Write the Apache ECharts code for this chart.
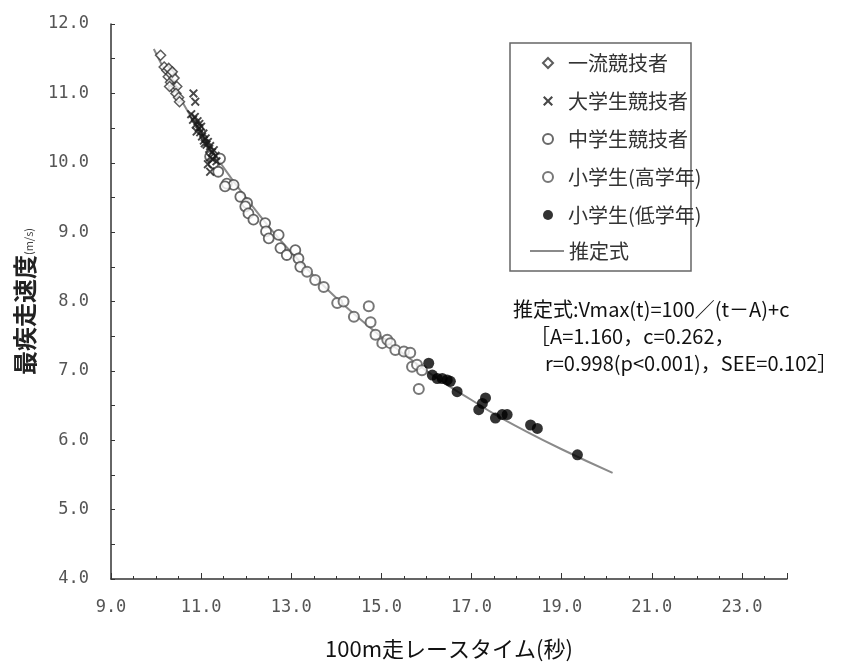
<!DOCTYPE html>
<html>
<head>
<meta charset="utf-8">
<script src="https://cdn.jsdelivr.net/npm/echarts@6/dist/echarts.min.js"></script>
<style>html,body{margin:0;padding:0;background:#fff}#chart{width:851px;height:667px}</style>
</head>
<body>
<div id="chart"></div>
<script>
// values: [100m time (s), max speed (m/s)]
const elite = [[10.10,11.55],[10.18,11.38],[10.24,11.33],[10.28,11.36],[10.27,11.24],[10.33,11.28],[10.32,11.16],[10.40,11.22],[10.38,11.08],[10.46,11.10],[10.44,11.00],[10.50,10.94],[10.36,11.31],[10.30,11.10],[10.52,10.88]]
const college = [[10.83,11.00],[10.87,10.88],[10.78,10.70],[10.82,10.62],[10.86,10.66],[10.88,10.55],[10.92,10.60],[10.95,10.50],[10.90,10.45],[10.98,10.44],[11.00,10.52],[11.02,10.38],[11.05,10.42],[11.06,10.32],[11.10,10.35],[11.12,10.26],[11.15,10.30],[11.18,10.20],[11.20,10.24],[11.24,10.15],[11.28,10.18],[11.32,10.10],[11.20,10.08],[11.15,9.98],[10.96,10.56],[11.08,10.28],[11.26,10.05],[11.34,10.02],[11.20,9.87]]
const juniorHigh = [[11.20,10.09],[11.42,10.06],[11.27,9.99],[11.38,9.87],[11.57,9.70],[11.72,9.68],[11.53,9.66],[11.87,9.51],[12.02,9.42],[11.98,9.37],[12.05,9.27],[12.16,9.18],[12.42,9.13],[12.44,9.01],[12.50,8.91],[12.72,8.96],[12.76,8.77],[12.90,8.67],[13.09,8.74],[13.16,8.62],[13.20,8.50]]
const elemUpper = [[13.35,8.43],[13.53,8.31],[13.72,8.21],[14.02,7.98],[14.16,8.00],[14.39,7.78],[14.72,7.93],[14.76,7.70],[14.87,7.52],[15.02,7.40],[15.13,7.45],[15.20,7.40],[15.31,7.30],[15.50,7.28],[15.64,7.26],[15.68,7.06],[15.79,7.09],[15.83,6.74],[15.90,7.01]]
const elemLower = [[16.05,7.11],[16.13,6.94],[16.24,6.89],[16.35,6.89],[16.46,6.87],[16.53,6.85],[16.68,6.70],[17.31,6.61],[17.24,6.53],[17.16,6.44],[17.53,6.32],[17.68,6.37],[17.79,6.37],[18.31,6.22],[18.46,6.17],[19.35,5.79]]
const fitCurve = [[9.95,11.64],[10.25,11.26],[10.5,10.97],[11,10.42],[11.5,9.93],[12,9.49],[12.5,9.08],[13,8.71],[13.5,8.37],[14,8.05],[14.5,7.76],[15,7.49],[15.5,7.24],[16,7.00],[16.5,6.78],[17,6.58],[17.5,6.38],[18,6.20],[19,5.87],[20.13,5.53]]
const seriesNames = ['一流競技者','大学生競技者','中学生競技者','小学生(高学年)','小学生(低学年)','推定式']
const formulaLines = ['推定式:Vmax(t)=100／(t－A)+c','［A=1.160，c=0.262，','r=0.998(p<0.001)，SEE=0.102］']

const crossPath = 'path://M0,1.5L1.5,0L5,3.5L8.5,0L10,1.5L6.5,5L10,8.5L8.5,10L5,6.5L1.5,10L0,8.5L3.5,5Z'
const tickFont = { fontFamily: 'DejaVu Sans Mono', fontSize: 17, color: '#555' }
const axisLine = { lineStyle: { color: '#333', width: 1.5 } }
const legendText = { fontFamily: 'Noto Sans CJK JP', fontSize: 20, color: '#333' }

const chart = echarts.init(document.getElementById('chart'))
chart.setOption({
  backgroundColor: '#fff',
  animation: false,
  grid: { left: 111, right: 64, top: 24, bottom: 88, outerBoundsMode: 'none' },
  legend: [{
    orient: 'vertical', left: 542, top: 53, padding: 0,
    itemWidth: 10, itemHeight: 10, itemGap: 18,
    textStyle: Object.assign({ padding: [0, 0, 0, 10] }, legendText),
    data: seriesNames.slice(0, 5)
  }, {
    orient: 'vertical', left: 530, top: 241, padding: 0,
    itemWidth: 34, itemHeight: 2,
    textStyle: legendText,
    data: [{ name: seriesNames[5], icon: 'rect' }]
  }],
  xAxis: [{
    type: 'value', min: 9, max: 24, interval: 1,
    name: '100m走レースタイム(秒)', nameLocation: 'middle', nameGap: 59,
    nameTextStyle: { fontFamily: 'Noto Sans CJK JP', fontSize: 22, color: '#111' },
    axisLine: axisLine,
    axisTick: { inside: true, length: 3, lineStyle: { color: '#333' } },
    minorTick: { show: true, splitNumber: 2, length: 3, lineStyle: { color: '#333' } },
    splitLine: { show: false },
    axisLabel: Object.assign({ margin: 20, formatter: v => (Math.round(v) % 2 === 1 && v < 24) ? v.toFixed(1) : '' }, tickFont)
  }, {
    type: 'value', min: 9, max: 24, interval: 2, position: 'bottom',
    axisLine: { show: false }, axisLabel: { show: false }, splitLine: { show: false },
    axisTick: { inside: true, length: 6, lineStyle: { color: '#333' } }
  }],
  yAxis: {
    type: 'value', min: 4, max: 12, interval: 1,
    name: '{a|最疾走速度}{b|(m/s)}', nameLocation: 'middle', nameGap: 58, nameRotate: 90,
    nameTextStyle: { rich: {
      a: { fontFamily: 'Noto Sans CJK JP', fontSize: 24, fontWeight: 'bold', color: '#222' },
      b: { fontFamily: 'Noto Sans CJK JP', fontSize: 11, color: '#444', padding: [8, 0, 0, 0] }
    } },
    axisLine: Object.assign({ show: true }, axisLine),
    axisTick: { inside: true, length: 4, lineStyle: { color: '#333' } },
    minorTick: { show: true, splitNumber: 2, length: 4, lineStyle: { color: '#333' } },
    splitLine: { show: false },
    axisLabel: Object.assign({ margin: 22, formatter: v => v.toFixed(1) }, tickFont)
  },
  series: [
    { name: seriesNames[5], type: 'line', data: fitCurve, smooth: true, symbol: 'none', z: 1,
      lineStyle: { color: '#8a8a8a', width: 2 }, itemStyle: { color: '#8a8a8a' } },
    { name: seriesNames[0], type: 'scatter', data: elite, symbol: 'diamond', symbolSize: 10, z: 3,
      itemStyle: { color: '#fff', borderColor: '#333', borderWidth: 1.5 } },
    { name: seriesNames[1], type: 'scatter', data: college, symbol: crossPath, symbolSize: 9, z: 4,
      itemStyle: { color: '#1a1a1a' } },
    { name: seriesNames[2], type: 'scatter', data: juniorHigh, symbol: 'circle', symbolSize: 10, z: 3,
      itemStyle: { color: '#fff', borderColor: '#444', borderWidth: 1.8 } },
    { name: seriesNames[3], type: 'scatter', data: elemUpper, symbol: 'circle', symbolSize: 10, z: 3,
      itemStyle: { color: '#fff', borderColor: '#555', borderWidth: 2 } },
    { name: seriesNames[4], type: 'scatter', data: elemLower, symbol: 'circle', symbolSize: 11, z: 3,
      itemStyle: { color: '#000' } }
  ],
  graphic: [{
    type: 'rect', shape: { x: 510, y: 43, width: 181, height: 228 },
    style: { fill: 'none', stroke: '#666', lineWidth: 1.5 }
  }].concat(formulaLines.map((t, i) => ({
    type: 'text', left: [513, 530, 545][i], top: 299 + i * 27,
    style: { text: t, font: '20px "Noto Sans CJK JP"', fill: '#111' }
  })))
})
</script>
</body>
</html>
